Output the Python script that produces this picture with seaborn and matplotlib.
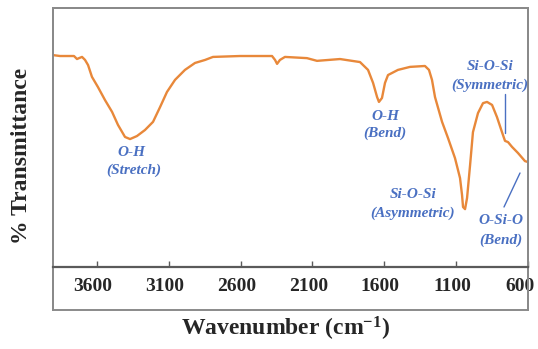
import matplotlib
matplotlib.use("Agg")
import matplotlib.pyplot as plt
from matplotlib.patches import Rectangle
from matplotlib.transforms import ScaledTranslation
import seaborn as sns
import pandas as pd

# FTIR spectrum
wavenumber = [3905, 3856, 3801, 3759, 3738, 3724, 3703, 3682, 3661, 3634, 3592,
              3543, 3494, 3453, 3404, 3369, 3321, 3265, 3209, 3160, 3112, 3056,
              2987, 2917, 2847, 2792, 2604, 2381, 2360, 2346, 2326, 2291, 2138,
              2068, 1908, 1769, 1713, 1678, 1650, 1637, 1616, 1595, 1574, 1505,
              1421, 1317, 1289, 1268, 1247, 1198, 1157, 1108, 1073, 1059, 1052,
              1038, 1024, 1003, 983, 948, 913, 885, 850, 816, 781, 760, 739, 711,
              670, 621, 600]
transmittance = [84.4, 84.1, 84.1, 84.1, 83.1, 83.4, 83.8, 82.8, 81.1, 77.2, 73.8,
                 69.5, 65.6, 61.3, 57.3, 56.6, 57.6, 59.6, 62.3, 67.2, 72.2, 76.2,
                 79.5, 81.8, 82.8, 83.8, 84.1, 84.1, 82.8, 81.5, 82.8, 83.8, 83.4,
                 82.5, 83.1, 82.1, 79.5, 75.2, 70.5, 68.9, 70.2, 75.2, 77.8, 79.5,
                 80.5, 80.8, 79.5, 76.2, 70.5, 62.3, 57.0, 50.3, 43.7, 38.1, 34.1,
                 33.4, 37.1, 48.0, 58.9, 65.2, 68.5, 68.9, 67.9, 63.9, 58.9, 56.0,
                 55.6, 54.0, 52.0, 49.3, 49.0]

xticks = [3600, 3100, 2600, 2100, 1600, 1100, 600]

sns.set_style("white")
plt.rcParams['font.family'] = ['Liberation Serif', 'DejaVu Serif']
plt.rcParams['mathtext.fontset'] = 'custom'
plt.rcParams['mathtext.rm'] = 'Liberation Serif:bold'
plt.rcParams['mathtext.it'] = 'Liberation Serif:bold'
plt.rcParams['mathtext.bf'] = 'Liberation Serif:bold'

df = pd.DataFrame({"Wavenumber": wavenumber, "T": transmittance})

fig = plt.figure(figsize=(5.38, 3.49), dpi=100)
ax = fig.add_axes([53/538, 1 - 310/349, 475/538, 302/349])

sns.lineplot(data=df, x="Wavenumber", y="T", ax=ax, color="#E8883A",
             linewidth=1.7, sort=False, estimator=None)
for ln in ax.get_lines():
    ln.set_solid_joinstyle('round')
    ln.set_solid_capstyle('round')

ax.set_xlim(3905, 600)
ax.set_ylim(0, 100)
ax.set_xticks(xticks)
ax.set_xticklabels([str(t) for t in xticks])
ax.set_yticks([])
ax.set_xlabel("")
ax.set_ylabel("")

for s in ['left', 'right', 'top']:
    ax.spines[s].set_color('#8a8a8a')
    ax.spines[s].set_linewidth(1.4)
ax.spines['bottom'].set_position(('axes', 43/302))
ax.spines['bottom'].set_color('#5a5a5a')
ax.spines['bottom'].set_linewidth(1.6)
ax.tick_params(axis='x', direction='in', length=4, width=1, color='#5a5a5a',
               pad=8, bottom=True, labelsize=14)
labels = ax.get_xticklabels()
for i, lab in enumerate(labels):
    lab.set_fontweight('bold')
    dx = -0.075 if i == len(labels) - 1 else -0.04
    lab.set_transform(lab.get_transform() + ScaledTranslation(dx, 0, fig.dpi_scale_trans))

ax.add_patch(Rectangle((0, 0), 1, 1, transform=ax.transAxes, fill=False,
                       edgecolor='#8a8a8a', linewidth=1.4, clip_on=False))

fig.text(22/538, 1 - 156/349, "% Transmittance", rotation=90, ha='center',
         va='center', fontsize=17, fontweight='bold')
fig.text(286/538, 1 - 329/349, "Wavenumber (cm$^{-1}$)", ha='center',
         va='center', fontsize=17, fontweight='bold')

blue = '#4A70C2'
kw = dict(color=blue, style='italic', fontweight='bold', fontsize=11,
          ha='center', va='center')

def fx(px):
    return 3905 - (px - 53) * 3305 / 475

def fy(py):
    return (310 - py) / 302 * 100

def ann(px, py, txt):
    ax.text(fx(px), fy(py), txt, **kw)

ann(131, 153, "O-H")
ann(134, 170, "(Stretch)")
ann(385, 117, "O-H")
ann(385, 133, "(Bend)")
ann(490, 67, "Si-O-Si")
ann(490, 85, "(Symmetric)")
ann(413, 195, "Si-O-Si")
ann(413, 213, "(Asymmetric)")
ann(501, 221, "O-Si-O")
ann(501, 240, "(Bend)")

def line(p1, p2):
    ax.plot([fx(p1[0]), fx(p2[0])], [fy(p1[1]), fy(p2[1])], color=blue, lw=1)

line((505, 94), (505, 133))
line((520, 173), (504, 207))

fig.savefig("out.png", dpi=100)
